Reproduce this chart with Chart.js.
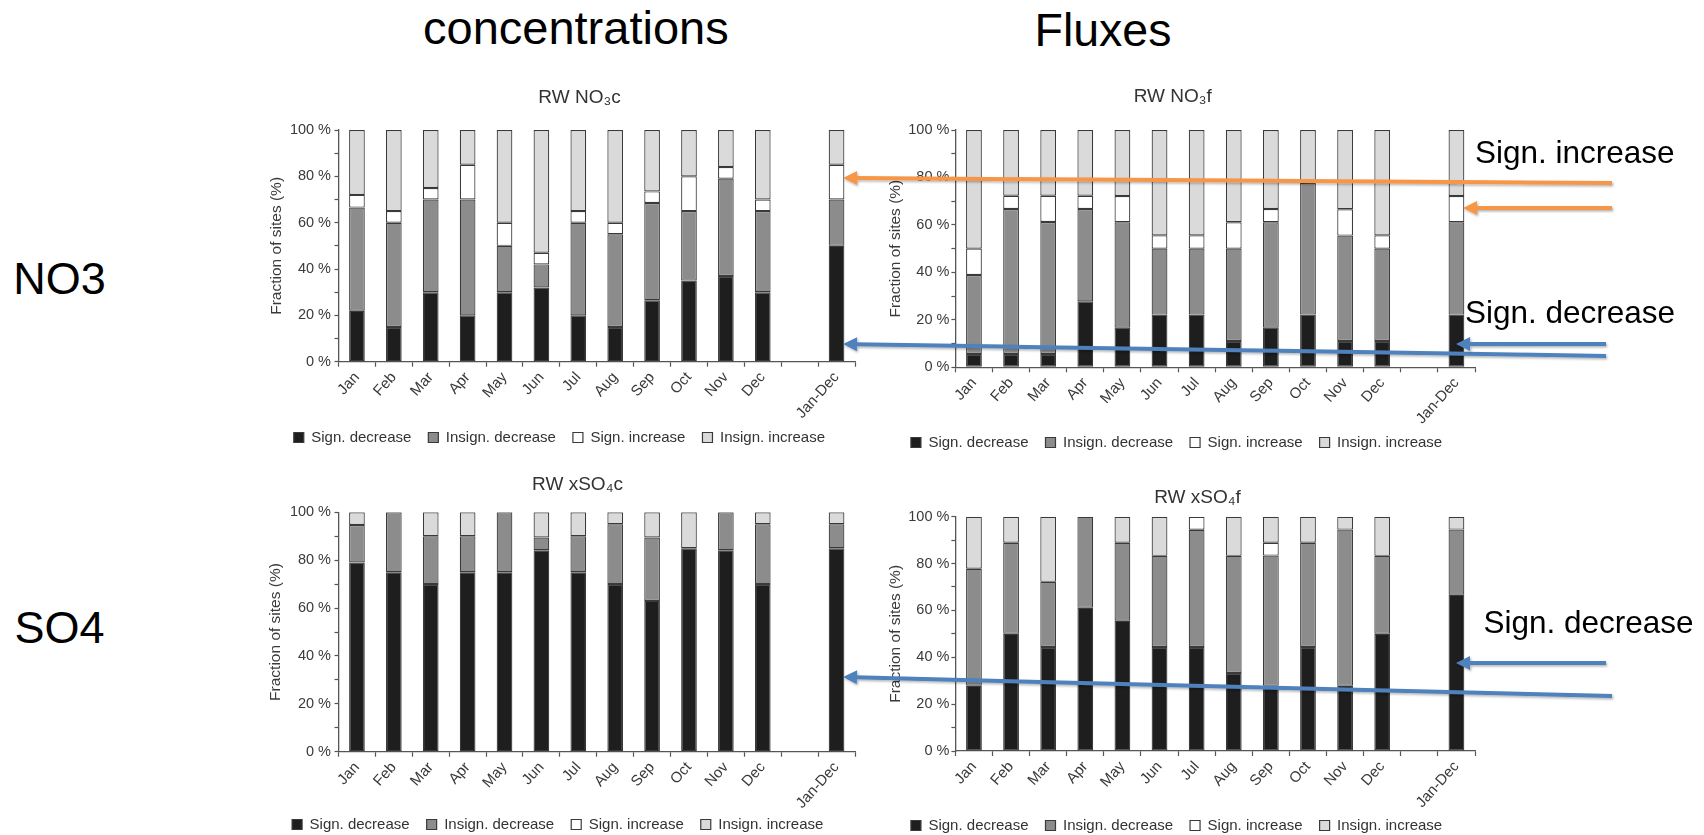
<!DOCTYPE html>
<html>
<head>
<meta charset="utf-8">
<script src="https://cdn.jsdelivr.net/npm/chart.js@4.4.0/dist/chart.umd.min.js"></script>
<style>
  html, body { margin: 0; padding: 0; background: #fff; overflow: hidden; }
  body { width: 1704px; height: 835px; position: relative; font-family: "Liberation Sans", Arial, sans-serif; }
  canvas { position: absolute; }
  .lbl { position: absolute; line-height: 1; white-space: nowrap; color: #000; }
  svg { position: absolute; left: 0; top: 0; }
</style>
</head>
<body>
<div class="lbl" style="left:423px;top:3.5px;font-size:47px">concentrations</div>
<div class="lbl" style="left:1034.5px;top:7.3px;font-size:46.5px">Fluxes</div>
<div class="lbl" style="left:13.3px;top:256px;font-size:45px">NO3</div>
<div class="lbl" style="left:14.5px;top:605px;font-size:45px">SO4</div>

<canvas id="no3c" width="593" height="371" style="left:266px;top:84px"></canvas>
<canvas id="no3f" width="593" height="376" style="left:886px;top:84px"></canvas>
<canvas id="so4c" width="593" height="372" style="left:266px;top:470px"></canvas>
<canvas id="so4f" width="593" height="373" style="left:886px;top:470px"></canvas>

<svg id="arrows" width="1704" height="835"></svg>

<div class="lbl" style="left:1475px;top:137px;font-size:31.5px">Sign. increase</div>
<div class="lbl" style="left:1465px;top:296.5px;font-size:31.5px">Sign. decrease</div>
<div class="lbl" style="left:1483.5px;top:607.3px;font-size:31.5px">Sign. decrease</div>

<script>
Chart.defaults.font.family = '"Liberation Sans", Arial, sans-serif';

const months = ['Jan', 'Feb', 'Mar', 'Apr', 'May', 'Jun', 'Jul', 'Aug', 'Sep', 'Oct', 'Nov', 'Dec', '', 'Jan-Dec'];
const legendNames = ['Sign. decrease', 'Insign. decrease', 'Sign. increase', 'Insign. increase'];
const fills = ['#1e1e1e', '#8c8c8c', '#ffffff', '#dadada'];

// RW NO3c (concentrations), % of sites
const no3cSignDec  = [22, 15, 30, 20, 30, 32, 20, 15, 26.5, 35, 37, 30, null, 50];
const no3cInsDec   = [44.5, 45, 40, 50, 20, 10, 40, 40, 42, 30, 42, 35, null, 20];
const no3cSignInc  = [5.5, 5, 5, 15, 10, 5, 5, 5, 5, 15, 5, 5, null, 15];
const no3cInsInc   = [28, 35, 25, 15, 40, 53, 35, 40, 26.5, 20, 16, 30, null, 15];

// RW NO3f (fluxes)
const no3fSignDec  = [5.6, 5.6, 5.6, 27.8, 16.7, 22.2, 22.2, 11.1, 16.7, 22.2, 11.1, 11.1, null, 22.2];
const no3fInsDec   = [33.3, 61.1, 55.6, 38.9, 44.4, 27.8, 27.8, 38.9, 44.4, 55.6, 44.4, 38.9, null, 38.9];
const no3fSignInc  = [11.1, 5.6, 11.1, 5.6, 11.1, 5.6, 5.6, 11.1, 5.6, 0, 11.1, 5.6, null, 11.1];
const no3fInsInc   = [50, 27.7, 27.7, 27.7, 27.8, 44.4, 44.4, 38.9, 33.3, 22.2, 33.4, 44.4, null, 27.8];

// RW xSO4c (concentrations)
const so4cSignDec  = [79, 75, 70, 75, 75, 84.2, 75, 70, 63, 85, 84.2, 70, null, 85];
const so4cInsDec   = [15.7, 25, 20, 15, 25, 5.3, 15, 25, 26.5, 0, 15.8, 25, null, 10];
const so4cSignInc  = [0, 0, 0, 0, 0, 0, 0, 0, 0, 0, 0, 0, null, 0];
const so4cInsInc   = [5.3, 0, 10, 10, 0, 10.5, 10, 5, 10.5, 15, 0, 5, null, 5];

// RW xSO4f (fluxes)
const so4fSignDec  = [27.8, 50, 44.4, 61.1, 55.6, 44.4, 44.4, 33.3, 27.8, 44.4, 27.8, 50, null, 66.7];
const so4fInsDec   = [50, 38.9, 27.8, 38.9, 33.3, 38.9, 50, 50, 55.6, 44.5, 66.7, 33.3, null, 27.8];
const so4fSignInc  = [0, 0, 0, 0, 0, 0, 5.6, 0, 5.5, 0, 0, 0, null, 0];
const so4fInsInc   = [22.2, 11.1, 27.8, 0, 11.1, 16.7, 0, 16.7, 11.1, 11.1, 5.5, 16.7, null, 5.5];

// move title / legend sideways after layout (the original figure is not centred),
// and let the rotated x labels run a bit lower than the x scale box before clipping
const shiftBlocks = {
  id: 'shiftBlocks',
  afterLayout(chart, args, opts) {
    if (chart.titleBlock) { chart.titleBlock.left += opts.title; chart.titleBlock.right += opts.title; }
    if (chart.legend) { chart.legend.left += opts.legend; chart.legend.right += opts.legend; }
    if (chart.scales.x) { chart.scales.x.bottom += 16; }
  }
};

function makeChart(id, title, series, g) {
  const datasets = series.map((values, i) => ({
    label: legendNames[i],
    data: values,
    backgroundColor: fills[i],
    borderColor: '#3a3a3a',
    borderWidth: 1.2,
    borderSkipped: false,
    barPercentage: 0.425,
    categoryPercentage: 1
  }));

  return new Chart(document.getElementById(id), {
    type: 'bar',
    data: { labels: months, datasets: datasets },
    plugins: [shiftBlocks],
    options: {
      responsive: false,
      animation: false,
      events: [],
      layout: { padding: { left: 0, right: 4, top: 0, bottom: 0 } },
      plugins: {
        title: {
          display: true, text: title, color: '#333',
          font: { size: 19, weight: 'normal' },
          padding: { top: g.titleTop, bottom: g.titleBottom }
        },
        legend: {
          position: 'bottom',
          labels: { boxWidth: 10, boxHeight: 10, padding: 17, color: '#333', font: { size: 15 } }
        },
        tooltip: { enabled: false },
        shiftBlocks: { title: g.titleShift, legend: g.legendShift }
      },
      scales: {
        x: {
          stacked: true,
          grid: { drawOnChartArea: false, tickLength: 5, color: '#555', tickWidth: 1.2 },
          border: { color: '#555', width: 1.3 },
          ticks: { autoSkip: false, minRotation: 48, maxRotation: 48, color: '#3a3a3a', font: { size: 15 }, padding: 2 },
          afterFit: s => { s.height = g.xHeight; }
        },
        y: {
          stacked: true,
          min: 0,
          max: 100,
          grid: { drawOnChartArea: false, tickLength: 4, color: '#555', tickWidth: 1.2 },
          border: { color: '#555', width: 1.3 },
          ticks: {
            stepSize: 10, padding: g.tickPad, color: '#3a3a3a', font: { size: 14.5 },
            callback: v => (v % 20 === 0 ? v + ' %' : '')
          },
          title: {
            display: true, text: 'Fraction of sites (%)', color: '#3a3a3a',
            font: { size: 15.5 }, padding: { top: g.yTitlePad, bottom: 0 }
          },
          afterFit: s => { s.width = g.yWidth; }
        }
      }
    }
  });
}

makeChart('no3c', 'RW NO\u2083c', [no3cSignDec, no3cInsDec, no3cSignInc, no3cInsInc],
  { yWidth: 72.5, xHeight: 51.3, titleTop: 2.6, titleBottom: 20.6, titleShift: 19, legendShift: -1.1, yTitlePad: 1.9, tickPad: 3.5 });
makeChart('no3f', 'RW NO\u2083f', [no3fSignDec, no3fInsDec, no3fSignInc, no3fInsInc],
  { yWidth: 69.4, xHeight: 50.7, titleTop: 1.6, titleBottom: 21.6, titleShift: -7.75, legendShift: -3.95, yTitlePad: 0, tickPad: 2 });
makeChart('so4c', 'RW xSO\u2084c', [so4cSignDec, so4cInsDec, so4cSignInc, so4cInsInc],
  { yWidth: 72.5, xHeight: 48.3, titleTop: 3.6, titleBottom: 15.9, titleShift: 17, legendShift: -2.8, yTitlePad: 0, tickPad: 3.5 });
makeChart('so4f', 'RW xSO\u2084f', [so4fSignDec, so4fInsDec, so4fSignInc, so4fInsInc],
  { yWidth: 69.4, xHeight: 50, titleTop: 16.6, titleBottom: 7.3, titleShift: 17, legendShift: -3.95, yTitlePad: 0, tickPad: 2 });

// annotation arrows: colour, tail x, tail y, tip x, tip y
const arrows = [
  ['#F79646', 1612, 183, 843, 178],
  ['#F79646', 1612, 208, 1463, 208],
  ['#4F81BD', 1606, 356, 843, 344],
  ['#4F81BD', 1606, 344, 1456, 344],
  ['#4F81BD', 1612, 696, 843, 677],
  ['#4F81BD', 1606, 663, 1456, 663]
];

const svg = document.getElementById('arrows');
const NS = 'http://www.w3.org/2000/svg';
svg.innerHTML = '<defs><filter id="sh" x="-5%" y="-50%" width="110%" height="200%">' +
  '<feDropShadow dx="1.2" dy="1.5" stdDeviation="0.9" flood-color="#000" flood-opacity="0.3"/></filter></defs>';

arrows.forEach(([color, x1, y1, x2, y2]) => {
  const len = Math.hypot(x2 - x1, y2 - y1);
  const ux = (x2 - x1) / len, uy = (y2 - y1) / len;
  const head = 14, half = 7;
  const bx = x2 - ux * head, by = y2 - uy * head;
  const g = document.createElementNS(NS, 'g');
  g.setAttribute('filter', 'url(#sh)');
  const line = document.createElementNS(NS, 'line');
  line.setAttribute('x1', x1); line.setAttribute('y1', y1);
  line.setAttribute('x2', bx + ux * 2); line.setAttribute('y2', by + uy * 2);
  line.setAttribute('stroke', color); line.setAttribute('stroke-width', 4);
  const tri = document.createElementNS(NS, 'polygon');
  tri.setAttribute('points', `${x2},${y2} ${bx - uy * half},${by + ux * half} ${bx + uy * half},${by - ux * half}`);
  tri.setAttribute('fill', color);
  g.appendChild(line); g.appendChild(tri);
  svg.appendChild(g);
});
</script>
</body>
</html>
